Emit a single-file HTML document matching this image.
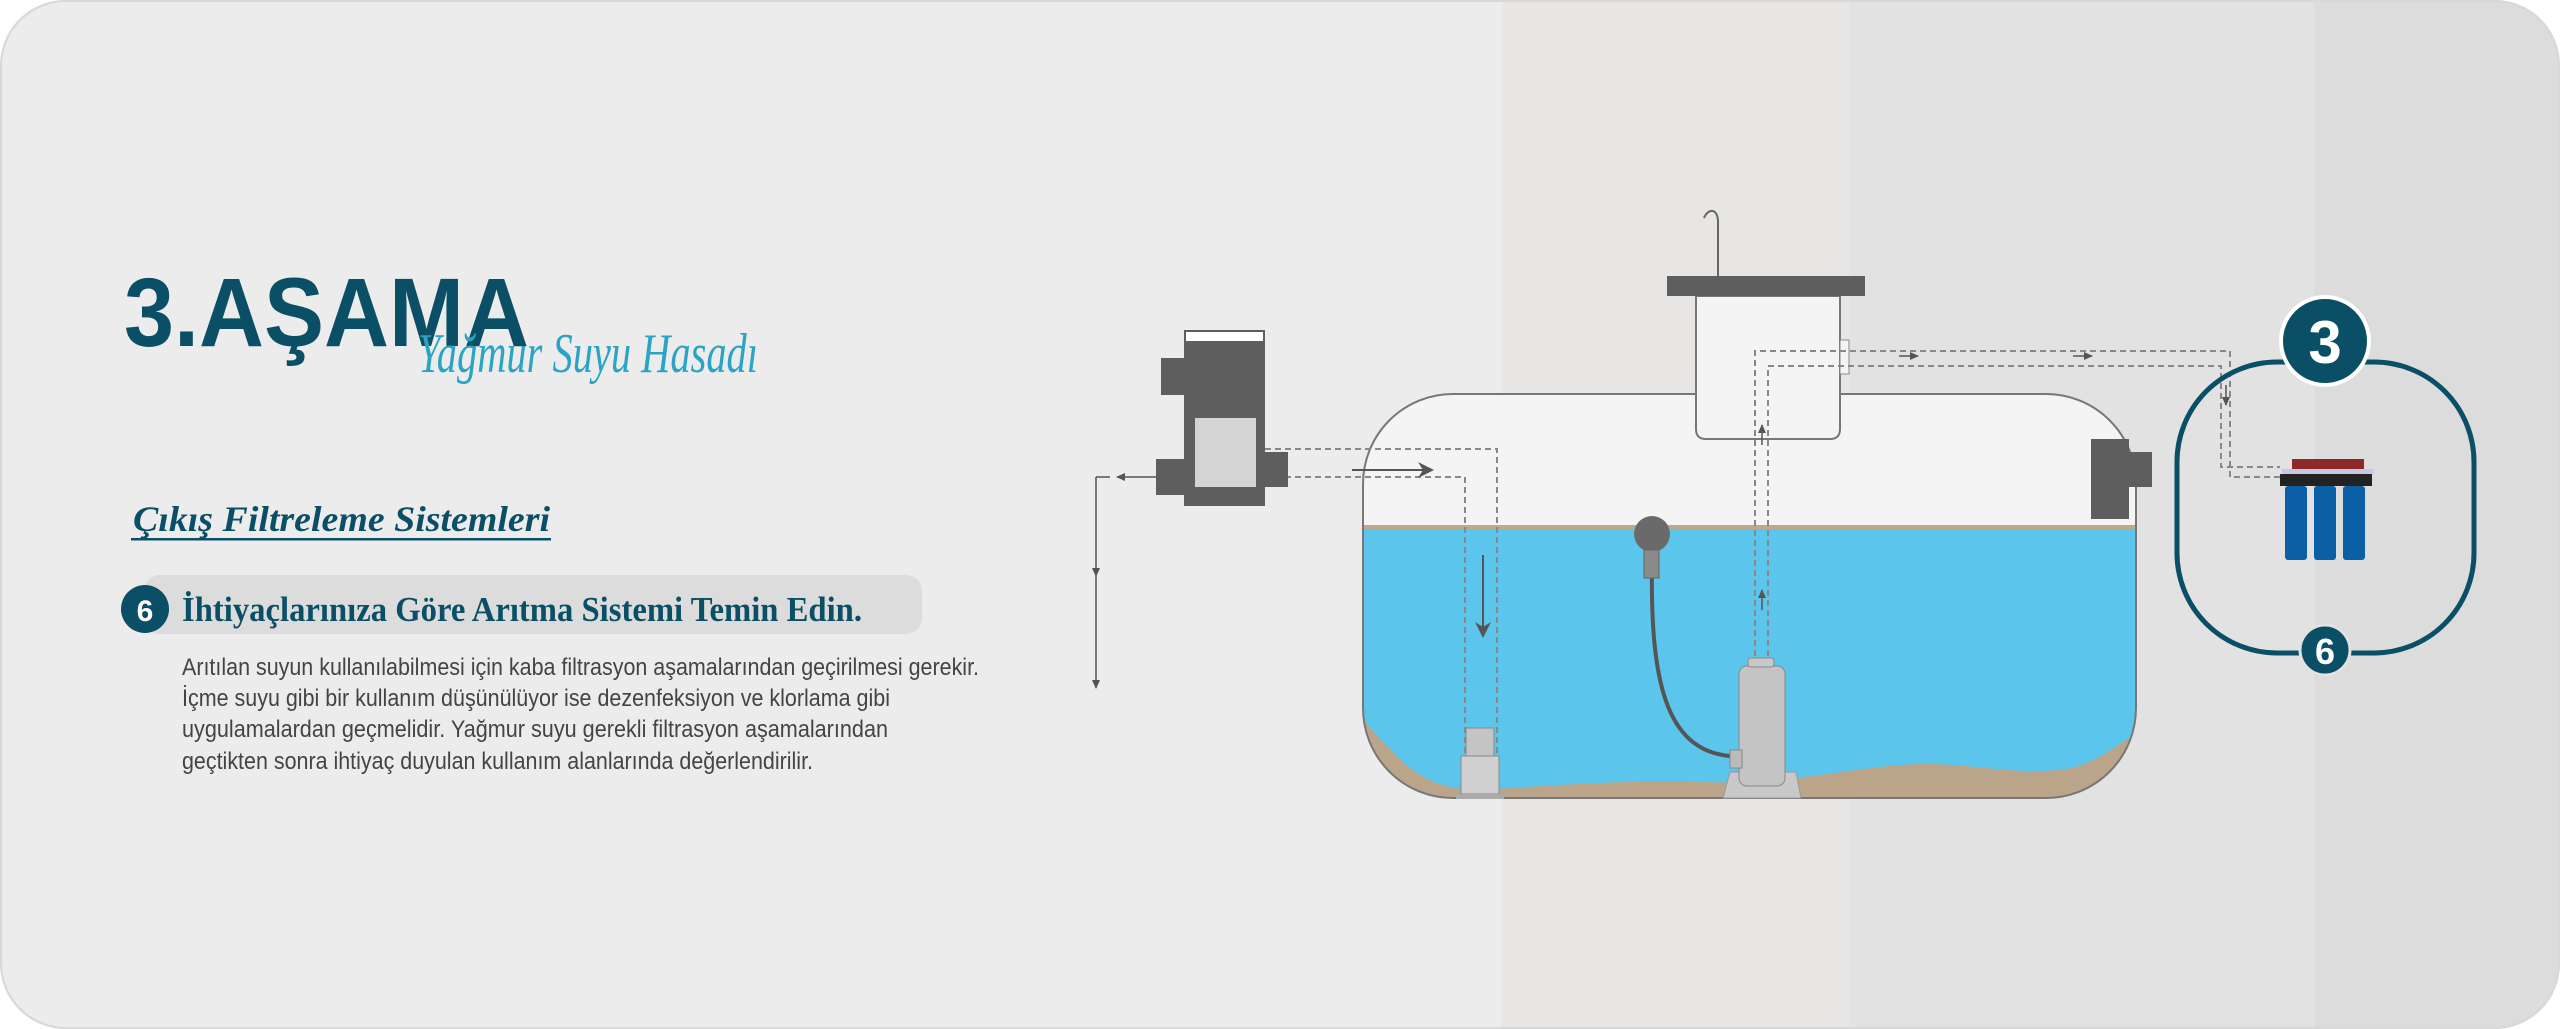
<!DOCTYPE html>
<html><head><meta charset="utf-8"><style>
html,body{margin:0;padding:0;background:#fff;width:2560px;height:1029px;overflow:hidden}
svg{display:block}
</style></head><body>
<svg width="2560" height="1029" viewBox="0 0 2560 1029" xmlns="http://www.w3.org/2000/svg">
<defs>
<clipPath id="bg"><rect x="0" y="0" width="2560" height="1029" rx="65"/></clipPath>
<clipPath id="tank"><rect x="1363" y="394" width="773" height="404" rx="90"/></clipPath>
<marker id="ah" markerWidth="10" markerHeight="10" refX="8" refY="5" orient="auto" markerUnits="userSpaceOnUse"><path d="M0,1 L9,5 L0,9 Z" fill="#555"/></marker>
<marker id="ahb" markerWidth="18" markerHeight="18" refX="14" refY="9" orient="auto" markerUnits="userSpaceOnUse"><path d="M0,1 L16,9 L0,17 L5,9 Z" fill="#555"/></marker>
</defs>
<g clip-path="url(#bg)">
<rect width="2560" height="1029" fill="#ececec"/>
<rect x="1502" y="0" width="348" height="1029" fill="#e7e6e4"/>
<rect x="1850" y="0" width="464" height="1029" fill="#e2e2e2"/>
<rect x="2314" y="0" width="246" height="1029" fill="#dcdcdc"/>
</g>
<rect x="1" y="1" width="2558" height="1027" rx="65" fill="none" stroke="#d8d8d8" stroke-width="2"/>

<!-- Left text -->
<text x="124" y="346" font-family="Liberation Sans, sans-serif" font-weight="bold" font-size="97" fill="#0b4f66" textLength="405" lengthAdjust="spacingAndGlyphs">3.AŞAMA</text>
<text x="418" y="372" font-family="Liberation Serif, serif" font-style="italic" font-size="56" fill="#2aa3c4" textLength="340" lengthAdjust="spacingAndGlyphs">Yağmur Suyu Hasadı</text>
<text x="133" y="531" font-family="Liberation Serif, serif" font-style="italic" font-weight="bold" font-size="36" fill="#0b4f66" textLength="417" lengthAdjust="spacingAndGlyphs">Çıkış Filtreleme Sistemleri</text>
<rect x="131" y="538" width="420" height="2.5" fill="#0b4f66"/>
<rect x="144" y="575" width="778" height="59" rx="16" fill="#dcdcdc"/>
<circle cx="145" cy="609" r="24" fill="#0b4f66"/>
<text x="145" y="621" text-anchor="middle" font-family="Liberation Sans, sans-serif" font-weight="bold" font-size="30" fill="#fff">6</text>
<text x="182" y="621" font-family="Liberation Serif, serif" font-weight="bold" font-size="35" fill="#0b4f66" textLength="680" lengthAdjust="spacingAndGlyphs">İhtiyaçlarınıza Göre Arıtma Sistemi Temin Edin.</text>
<g font-family="Liberation Sans, sans-serif" font-size="24" fill="#444">
<text x="182" y="675" textLength="797" lengthAdjust="spacingAndGlyphs">Arıtılan suyun kullanılabilmesi için kaba filtrasyon aşamalarından geçirilmesi gerekir.</text>
<text x="182" y="706" textLength="708" lengthAdjust="spacingAndGlyphs">İçme suyu gibi bir kullanım düşünülüyor ise dezenfeksiyon ve klorlama gibi</text>
<text x="182" y="737" textLength="706" lengthAdjust="spacingAndGlyphs">uygulamalardan  geçmelidir. Yağmur suyu gerekli filtrasyon aşamalarından</text>
<text x="182" y="769" textLength="631" lengthAdjust="spacingAndGlyphs">geçtikten sonra ihtiyaç duyulan kullanım alanlarında değerlendirilir.</text>
</g>

<!-- left outlet arrows -->
<line x1="1156" y1="477" x2="1117" y2="477" stroke="#555" stroke-width="1.5" marker-end="url(#ah)"/>
<line x1="1110" y1="477" x2="1096" y2="477" stroke="#555" stroke-width="1.5"/>
<line x1="1096" y1="477" x2="1096" y2="576" stroke="#555" stroke-width="1.5" marker-end="url(#ah)"/>
<line x1="1096" y1="576" x2="1096" y2="688" stroke="#555" stroke-width="1.5" marker-end="url(#ah)"/>

<!-- tank -->
<g clip-path="url(#tank)">
<rect x="1363" y="394" width="773" height="404" fill="#f4f4f4"/>
<rect x="1363" y="527" width="773" height="271" fill="#5bc5ec"/>
<rect x="1363" y="525" width="773" height="4" fill="#c0a98b"/>
<path d="M1363,720 C1400,760 1420,790 1480,790 C1560,785 1620,780 1700,782 C1780,785 1840,770 1900,765 C1960,760 2000,775 2060,770 C2100,765 2120,740 2136,735 L2136,800 L1363,800 Z" fill="#bba58a"/>
</g>
<rect x="1363" y="394" width="773" height="404" rx="90" fill="none" stroke="#777" stroke-width="2"/>

<!-- riser -->
<line x1="1718" y1="276" x2="1718" y2="222" stroke="#666" stroke-width="2"/>
<path d="M1718,222 C1718,208 1708,208 1704,218" fill="none" stroke="#666" stroke-width="2"/>
<path d="M1696,296 L1696,429 Q1696,439 1706,439 L1830,439 Q1840,439 1840,429 L1840,296 Z" fill="#f4f4f4" stroke="#777" stroke-width="2"/>
<rect x="1667" y="276" width="198" height="20" fill="#5e5e5e"/>
<rect x="1840" y="340" width="9" height="34" fill="#f4f4f4" stroke="#888" stroke-width="1"/>

<!-- right fitting -->
<rect x="2091" y="439" width="38" height="80" fill="#5e5e5e"/>
<rect x="2129" y="452" width="23" height="35" fill="#5e5e5e"/>

<!-- dashed lines -->
<g fill="none" stroke="#888" stroke-width="2" stroke-dasharray="6,4">
<polyline points="1265,449 1497,449 1497,793"/>
<polyline points="1265,477 1465,477 1465,753"/>
<polyline points="1755,666 1755,351 2230,351 2230,477 2280,477"/>
<polyline points="1768,666 1768,366 2221,366 2221,467 2280,467"/>
</g>
<line x1="1352" y1="470" x2="1432" y2="470" stroke="#555" stroke-width="2" marker-end="url(#ahb)"/>
<line x1="1483" y1="555" x2="1483" y2="636" stroke="#555" stroke-width="2" marker-end="url(#ahb)"/>
<line x1="1899" y1="356" x2="1918" y2="356" stroke="#555" stroke-width="1.5" marker-end="url(#ah)"/>
<line x1="2073" y1="356" x2="2092" y2="356" stroke="#555" stroke-width="1.5" marker-end="url(#ah)"/>
<line x1="2226" y1="385" x2="2226" y2="405" stroke="#555" stroke-width="1.5" marker-end="url(#ah)"/>
<line x1="1762" y1="445" x2="1762" y2="425" stroke="#555" stroke-width="1.5" marker-end="url(#ah)"/>
<line x1="1762" y1="610" x2="1762" y2="590" stroke="#555" stroke-width="1.5" marker-end="url(#ah)"/>

<!-- left pump -->
<rect x="1184" y="330" width="81" height="176" fill="#5e5e5e"/>
<rect x="1186" y="332" width="77" height="9" fill="#fff"/>
<rect x="1161" y="358" width="23" height="37" fill="#5e5e5e"/>
<rect x="1156" y="459" width="28" height="36" fill="#5e5e5e"/>
<rect x="1265" y="452" width="23" height="35" fill="#5e5e5e"/>
<rect x="1195" y="418" width="61" height="69" fill="#d4d4d4"/>

<!-- float and cable -->
<path d="M1652,560 C1650,680 1665,750 1730,756" fill="none" stroke="#555" stroke-width="4"/>
<circle cx="1652" cy="534" r="18" fill="#6a6a6a"/>
<rect x="1644" y="550" width="15" height="28" fill="#8a8a8a" stroke="#666"/>

<!-- bottom filter left -->
<rect x="1466" y="728" width="28" height="28" fill="#c4c4c4" stroke="#888"/>
<rect x="1461" y="756" width="38" height="38" fill="#d0d0d0" stroke="#888"/>
<rect x="1456" y="794" width="48" height="5" fill="#aaa"/>

<!-- right pump -->
<path d="M1730,772 L1796,772 L1801,798 L1723,798 Z" fill="#c8c8c8" stroke="#999"/>
<rect x="1739" y="666" width="46" height="120" rx="8" fill="#c4c4c4" stroke="#888"/>
<rect x="1748" y="658" width="26" height="9" rx="3" fill="#c8c8c8" stroke="#888"/>
<rect x="1730" y="750" width="12" height="18" fill="#bbb" stroke="#888"/>

<!-- right frame -->
<rect x="2177" y="362" width="297" height="291" rx="100" fill="none" stroke="#0b4f66" stroke-width="5"/>
<circle cx="2325" cy="341" r="44" fill="#0b4f66" stroke="#fff" stroke-width="4"/>
<text x="2325" y="363" text-anchor="middle" font-family="Liberation Sans, sans-serif" font-weight="bold" font-size="60" fill="#fff">3</text>
<circle cx="2325" cy="650" r="25" fill="#0b4f66" stroke="#e2e2e2" stroke-width="3"/>
<text x="2325" y="664" text-anchor="middle" font-family="Liberation Sans, sans-serif" font-weight="bold" font-size="36" fill="#fff">6</text>

<!-- filter unit -->
<rect x="2292" y="459" width="72" height="10" fill="#8c2a2a"/>
<rect x="2282" y="469" width="92" height="5" fill="#c8c8e0"/>
<rect x="2280" y="474" width="92" height="12" fill="#222"/>
<rect x="2285" y="486" width="22" height="74" rx="3" fill="#0b5fa5"/>
<rect x="2314" y="486" width="22" height="74" rx="3" fill="#0b5fa5"/>
<rect x="2343" y="486" width="22" height="74" rx="3" fill="#0b5fa5"/>
</svg>
</body></html>
